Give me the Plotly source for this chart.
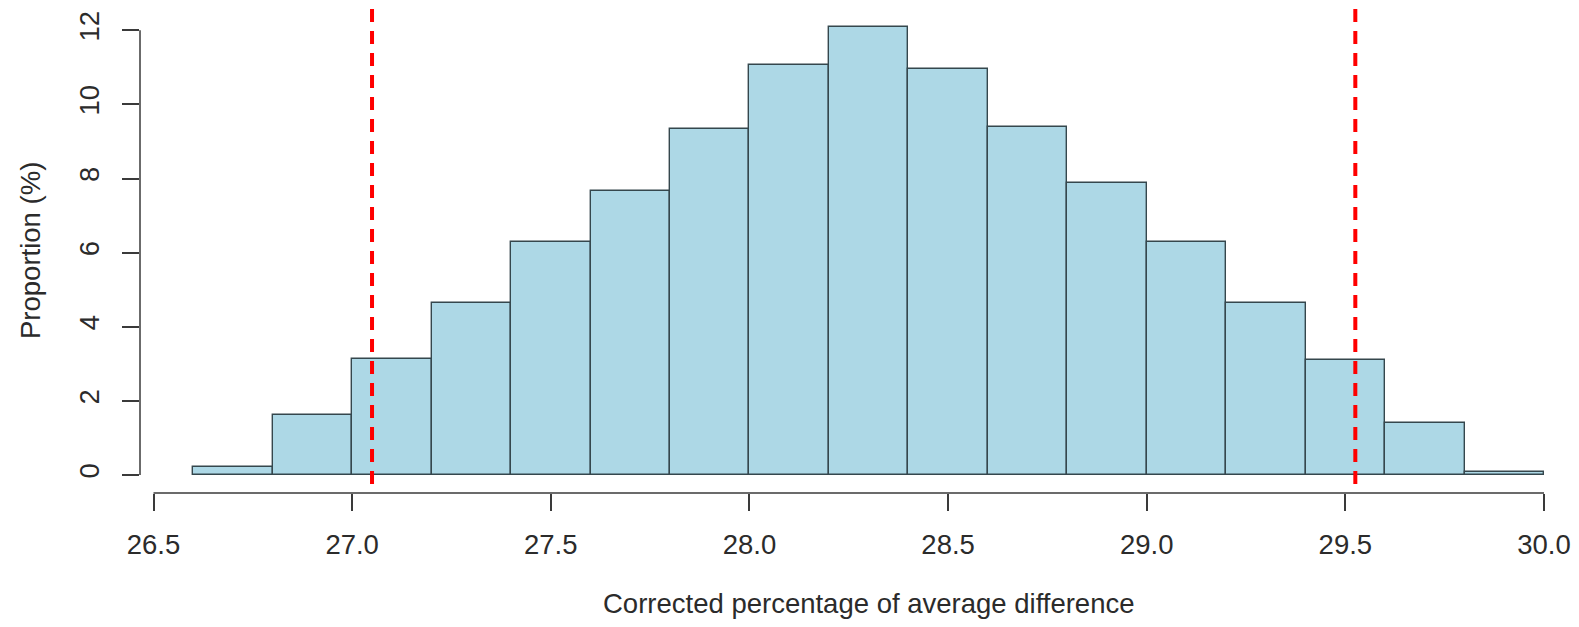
import plotly.graph_objects as go

# Histogram bin edges (width 0.2) and bar heights (proportion, %)
bin_edges = [26.6, 26.8, 27.0, 27.2, 27.4, 27.6, 27.8, 28.0, 28.2, 28.4,
             28.6, 28.8, 29.0, 29.2, 29.4, 29.6, 29.8, 30.0]
proportions = [0.22, 1.62, 3.12, 4.63, 6.28, 7.66, 9.33, 11.06, 12.09,
               10.95, 9.39, 7.88, 6.28, 4.63, 3.10, 1.41, 0.09]
ci_bounds = [27.05, 29.525]

x_ticks = [26.5, 27.0, 27.5, 28.0, 28.5, 29.0, 29.5, 30.0]
x_ticklabels = ["26.5", "27.0", "27.5", "28.0", "28.5", "29.0", "29.5", "30.0"]
y_ticks = [0, 2, 4, 6, 8, 10, 12]
y_ticklabels = ["0", "2", "4", "6", "8", "10", "12"]

x_title = "Corrected percentage of average difference"
y_title = "Proportion (%)"

centers = [(a + b) / 2 for a, b in zip(bin_edges[:-1], bin_edges[1:])]
widths = [b - a for a, b in zip(bin_edges[:-1], bin_edges[1:])]

AX = "#3a3a3a"
FONT = dict(family="Liberation Sans, Arial, sans-serif", size=27.5, color="#2b2b2b")

fig = go.Figure()
fig.add_trace(go.Bar(
    x=centers, y=proportions, width=widths, base=0,
    marker=dict(color="#ADD8E6", line=dict(color="#35474d", width=1.4)),
    hoverinfo="x+y", showlegend=False,
))

shapes = []
# R-style axis lines spanning only first..last tick
shapes.append(dict(type="line", xref="x", yref="paper", x0=x_ticks[0], x1=x_ticks[-1],
                   y0=0, y1=0, line=dict(color=AX, width=1.5), layer="above"))
shapes.append(dict(type="line", xref="paper", yref="y", x0=0, x1=0,
                   y0=y_ticks[0], y1=y_ticks[-1], line=dict(color=AX, width=1.5), layer="above"))
for v in ci_bounds:
    shapes.append(dict(type="line", xref="x", yref="paper", x0=v, x1=v, y0=1, y1=0,
                       line=dict(color="#ff0000", width=4, dash="13px,9px"), layer="above"))

fig.update_layout(
    width=1571, height=619,
    margin=dict(l=132, r=0, t=1, b=134),
    paper_bgcolor="white", plot_bgcolor="white",
    font=FONT,
    bargap=0,
    shapes=shapes,
    xaxis=dict(range=[26.466, 30.088], showgrid=False, zeroline=False, showline=False,
               tickmode="array", tickvals=x_ticks, ticktext=x_ticklabels,
               ticks="outside", ticklen=17, tickwidth=1.5, tickcolor=AX,
               tickfont=FONT, ticklabelstandoff=10),
    yaxis=dict(range=[-0.485, 12.575], showgrid=False, zeroline=False, showline=False,
               tickmode="array", tickvals=y_ticks, ticktext=y_ticklabels,
               ticks="outside", ticklen=17, tickwidth=1.5, tickcolor=AX,
               tickangle=-90, tickfont=FONT, ticklabelstandoff=12),
    annotations=[
        dict(text=x_title, xref="paper", yref="paper", x=0.5063, y=0, yshift=-110,
             xanchor="center", yanchor="middle", showarrow=False, font=FONT),
        dict(text=y_title, xref="paper", yref="paper", x=0, y=0.5, xshift=-110,
             xanchor="center", yanchor="middle", textangle=-90, showarrow=False, font=FONT),
    ],
)

fig.write_html("out.html")
